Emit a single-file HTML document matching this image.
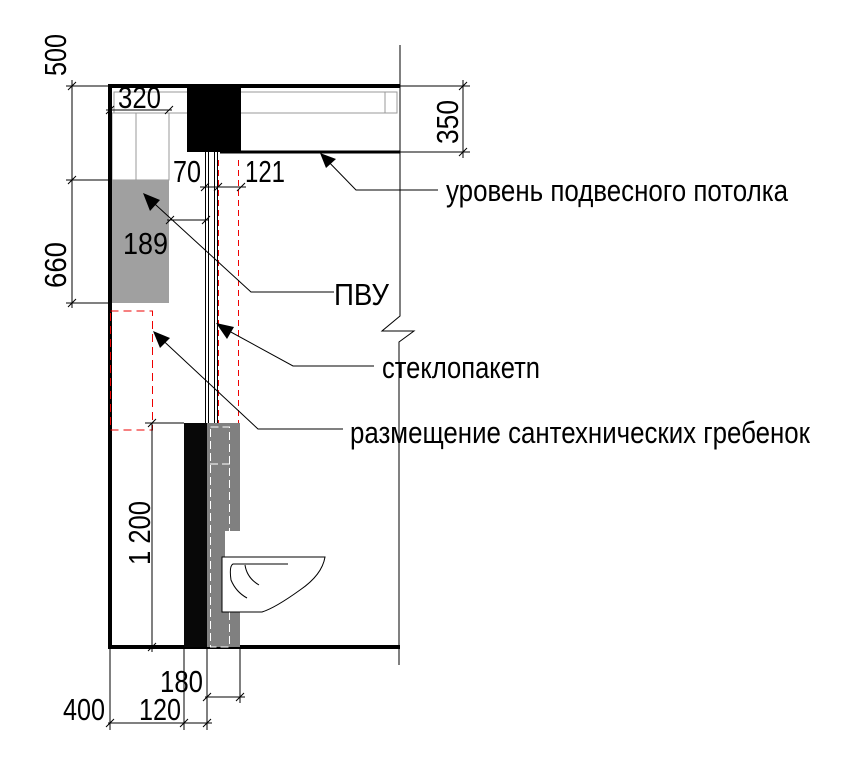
<!DOCTYPE html>
<html><head><meta charset="utf-8"><style>
html,body{margin:0;padding:0;background:#fff}
svg{display:block}
text{font-family:"Liberation Sans Narrow","Liberation Sans",sans-serif;fill:#000}
</style></head><body>
<svg width="864" height="763" viewBox="0 0 864 763" xmlns="http://www.w3.org/2000/svg">
<path d="M400,45 L400,316 L382,331 L414,331 L399,342 L399,665" fill="none" stroke="#000" stroke-width="1"/>
<rect x="114" y="92" width="283" height="21" fill="none" stroke="#999" stroke-width="1"/>
<line x1="385" y1="92" x2="385" y2="113" stroke="#999"/>
<rect x="112" y="113" width="57" height="67" fill="#fff" stroke="#999"/>
<line x1="136" y1="113" x2="136" y2="180" stroke="#999"/>
<rect x="112" y="180" width="57" height="123" fill="#a0a0a0"/>
<rect x="187" y="86" width="54" height="66" fill="#000"/>
<line x1="108" y1="86" x2="400" y2="86" stroke="#000" stroke-width="4"/>
<line x1="110" y1="86" x2="110" y2="649" stroke="#000" stroke-width="4"/>
<line x1="108" y1="647" x2="400" y2="647" stroke="#000" stroke-width="4"/>
<line x1="220" y1="152" x2="400" y2="152" stroke="#000" stroke-width="3"/>
<g stroke="#000" stroke-width="1">
<line x1="205.5" y1="152" x2="205.5" y2="423"/>
<line x1="208.5" y1="152" x2="208.5" y2="423"/>
<line x1="214.5" y1="152" x2="214.5" y2="423"/>
<line x1="217.5" y1="152" x2="217.5" y2="423"/>
</g>
<line x1="218.5" y1="160" x2="218.5" y2="423" stroke="#e00" stroke-dasharray="6,4"/>
<line x1="238.5" y1="160" x2="238.5" y2="423" stroke="#e00" stroke-dasharray="6,4"/>
<rect x="110.5" y="311" width="42" height="119" fill="none" stroke="#e00" stroke-dasharray="8,5"/>
<rect x="184" y="423" width="23" height="224" fill="#080808"/>
<path d="M207,423 H240 V531 H225 V612 H240 V647 H207 Z" fill="#808080"/>
<rect x="210.5" y="427" width="19" height="220" fill="none" stroke="#fff" stroke-dasharray="8,4"/>
<line x1="210" y1="464" x2="230" y2="464" stroke="#fff" stroke-dasharray="8,4"/>
<path d="M222,557 H325 Q322,575 300,590 Q275,608 262,612 H222 Z" fill="#fff" stroke="#000" stroke-width="1"/>
<path d="M288,564 H233 Q229,566 231,580 Q236,592 247,598" fill="none" stroke="#000"/>
<path d="M245,565 Q247,578 259,585" fill="none" stroke="#000"/>
<g stroke="#000" stroke-width="1" fill="none">
<line x1="72" y1="80" x2="72" y2="308"/>
<line x1="66" y1="86" x2="110" y2="86"/>
<line x1="66" y1="180" x2="112" y2="180"/>
<line x1="66" y1="303" x2="112" y2="303"/>
<path d="M68,90 L76,82 M68,184 L76,176 M68,307 L76,299"/>
<line x1="106" y1="110" x2="172" y2="110"/>
<path d="M106,114 L114,106 M165,114 L173,106"/>
<line x1="463" y1="80" x2="463" y2="158"/>
<line x1="400" y1="86" x2="470" y2="86"/>
<line x1="400" y1="152" x2="470" y2="152"/>
<path d="M459,90 L467,82 M459,156 L467,148"/>
<line x1="200" y1="187" x2="246" y2="187"/>
<path d="M201,191 L209,183 M214,191 L222,183 M237,191 L245,183"/>
<line x1="167" y1="220" x2="208" y2="220"/>
<path d="M166,224 L174,216 M202,224 L210,216"/>
<line x1="152" y1="423" x2="152" y2="652"/>
<line x1="145" y1="423" x2="184" y2="423"/>
<path d="M148,427 L156,419 M148,651 L156,643"/>
<line x1="110" y1="647" x2="110" y2="730"/>
<line x1="184" y1="647" x2="184" y2="730"/>
<line x1="207" y1="647" x2="207" y2="730"/>
<line x1="240" y1="647" x2="240" y2="703"/>
<line x1="108" y1="723" x2="212" y2="723"/>
<path d="M106,727 L114,719 M180,727 L188,719 M203,727 L211,719"/>
<line x1="205" y1="697" x2="245" y2="697"/>
<path d="M203,701 L211,693 M236,701 L244,693"/>
</g>
<g stroke="#000" stroke-width="1" fill="none">
<polyline points="322,155 356,190 438,190"/>
<polyline points="145,195 251,292 334,292"/>
<polyline points="218,325 293,366 374,366"/>
<polyline points="155,333 258,429 343,429"/>
</g>
<path d="M320,153 L336,159 L326,168 Z" fill="#000"/>
<path d="M143,193 L160,200 L150,211 Z" fill="#000"/>
<path d="M216,323 L234,327 L227,339 Z" fill="#000"/>
<path d="M153,331 L170,338 L160,348 Z" fill="#000"/>
<g font-size="31">
<text x="446" y="201" textLength="342" lengthAdjust="spacingAndGlyphs">уровень подвесного потолка</text>
<text x="334" y="305" textLength="55" lengthAdjust="spacingAndGlyphs">ПВУ</text>
<text x="382" y="378" textLength="158" lengthAdjust="spacingAndGlyphs">стеклопакетn</text>
<text x="350" y="443" textLength="460" lengthAdjust="spacingAndGlyphs">размещение сантехнических гребенок</text>
<text x="118" y="108" textLength="43" lengthAdjust="spacingAndGlyphs">320</text>
<text x="173" y="182" textLength="28" lengthAdjust="spacingAndGlyphs">70</text>
<text x="245" y="182" textLength="40" lengthAdjust="spacingAndGlyphs">121</text>
<text x="123" y="254" textLength="45" lengthAdjust="spacingAndGlyphs">189</text>
<text x="160" y="692" textLength="43" lengthAdjust="spacingAndGlyphs">180</text>
<text x="63" y="720" textLength="42" lengthAdjust="spacingAndGlyphs">400</text>
<text x="139" y="720" textLength="42" lengthAdjust="spacingAndGlyphs">120</text>
<text transform="translate(66,76) rotate(-90)" textLength="42" lengthAdjust="spacingAndGlyphs">500</text>
<text transform="translate(66,288) rotate(-90)" textLength="46" lengthAdjust="spacingAndGlyphs">660</text>
<text transform="translate(458,144) rotate(-90)" textLength="44" lengthAdjust="spacingAndGlyphs">350</text>
<text transform="translate(150,565) rotate(-90)" textLength="64" lengthAdjust="spacingAndGlyphs">1 200</text>
</g>
</svg>
</body></html>
